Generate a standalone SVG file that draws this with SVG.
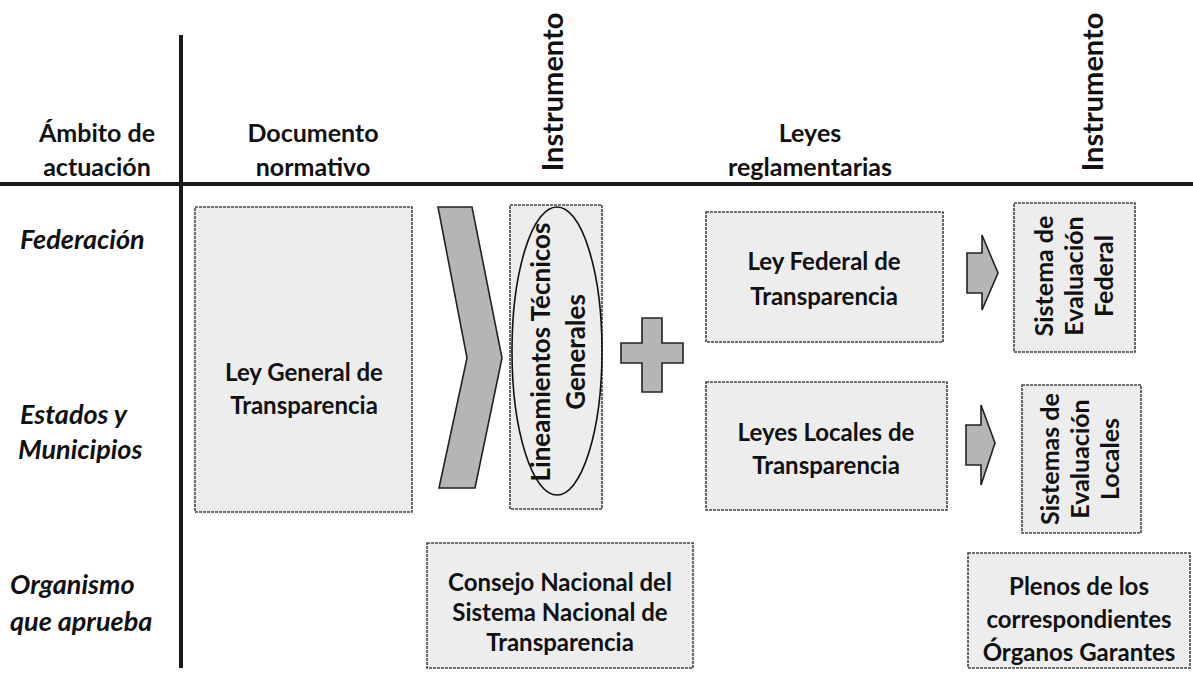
<svg xmlns="http://www.w3.org/2000/svg" width="1193" height="677" viewBox="0 0 1193 677">
<style>
  .t { font-family: Lato, "Open Sans", "Liberation Sans", sans-serif; font-weight: 700; font-size: 24px; fill: #111; text-anchor: middle; }
  .hd { font-size: 25px; }
  .v1 { font-size: 29px; }
  .v2 { font-size: 26px; }
  .v3 { font-size: 25px; }
  .row { font-family: Lato, "Open Sans", "Liberation Sans", sans-serif; font-weight: 700; font-style: italic; font-size: 27px; fill: #111; }
  .box { fill: #ededed; stroke: #444; stroke-width: 1.6; stroke-dasharray: 3 1; }
  .shape { fill: #b5b5b5; stroke: #222; stroke-width: 1.6; }
  .rule { stroke: #1a1a1a; stroke-width: 4; }
</style>
<rect width="1193" height="677" fill="#fff"/>

<g id="grid">
  <line class="rule" x1="0" y1="184" x2="1193" y2="184"/>
  <line class="rule" x1="181" y1="35" x2="181" y2="668"/>
</g>

<g id="headers">
  <text class="t hd" x="97" y="142">Ámbito de</text>
  <text class="t hd" x="97" y="176">actuación</text>
  <text class="t hd" x="313" y="142">Documento</text>
  <text class="t hd" x="313" y="176">normativo</text>
  <text class="t v1" transform="translate(563,92) rotate(-90)">Instrumento</text>
  <text class="t hd" x="810" y="142">Leyes</text>
  <text class="t hd" x="810" y="176">reglamentarias</text>
  <text class="t v1" transform="translate(1103,92) rotate(-90)">Instrumento</text>
</g>

<g id="rows">
  <text class="row" x="20" y="249">Federación</text>
  <text class="row" x="20" y="424">Estados y</text>
  <text class="row" x="18" y="459">Municipios</text>
  <text class="row" x="10" y="594">Organismo</text>
  <text class="row" x="10" y="631">que aprueba</text>
</g>

<g id="ley-general">
  <rect class="box" x="195" y="207" width="217" height="305"/>
  <text class="t" x="304" y="381">Ley General de</text>
  <text class="t" x="304" y="414">Transparencia</text>
</g>

<g id="chevron">
  <polygon class="shape" points="438,207 472,207 502,358 475,488 439,488 467,358"/>
</g>

<g id="lineamientos">
  <rect class="box" x="510" y="205" width="92" height="304"/>
  <ellipse cx="557" cy="351" rx="45" ry="144" fill="none" stroke="#111" stroke-width="1.6"/>
  <text class="t v2" transform="translate(550,352) rotate(-90)">Lineamientos Técnicos</text>
  <text class="t v2" transform="translate(585,352) rotate(-90)">Generales</text>
</g>

<g id="plus">
  <path class="shape" d="M642,318 H662 V343 H683 V363 H662 V392 H642 V363 H621 V343 H642 Z"/>
</g>

<g id="ley-federal">
  <rect class="box" x="706" y="212" width="237" height="130"/>
  <text class="t" x="824" y="270">Ley Federal de</text>
  <text class="t" x="824" y="305">Transparencia</text>
</g>

<g id="leyes-locales">
  <rect class="box" x="706" y="382" width="241" height="128"/>
  <text class="t" x="826" y="441">Leyes Locales de</text>
  <text class="t" x="826" y="474">Transparencia</text>
</g>

<g id="sistema-federal">
  <rect class="box" x="1014" y="203" width="121" height="149"/>
  <text class="t v3" transform="translate(1053,276) rotate(-90)">Sistema de</text>
  <text class="t v3" transform="translate(1083,276) rotate(-90)">Evaluación</text>
  <text class="t v3" transform="translate(1113,276) rotate(-90)">Federal</text>
</g>

<g id="sistemas-locales">
  <rect class="box" x="1022" y="385" width="119" height="148"/>
  <text class="t v3" transform="translate(1059,459) rotate(-90)">Sistemas de</text>
  <text class="t v3" transform="translate(1089,459) rotate(-90)">Evaluación</text>
  <text class="t v3" transform="translate(1119,459) rotate(-90)">Locales</text>
</g>

<g id="consejo">
  <rect class="box" x="427" y="543" width="266" height="125"/>
  <text class="t" x="560" y="591">Consejo Nacional del</text>
  <text class="t" x="560" y="621">Sistema Nacional de</text>
  <text class="t" x="560" y="651">Transparencia</text>
</g>

<g id="plenos">
  <rect class="box" x="968" y="553" width="222" height="115"/>
  <text class="t" x="1079" y="595">Plenos de los</text>
  <text class="t" x="1079" y="628">correspondientes</text>
  <text class="t" x="1079" y="661">Órganos Garantes</text>
</g>

<g id="connectors">
  <path class="shape" d="M967,253 H982 V235 L998,273 L982,310 V293 H967 Z"/>
  <path class="shape" d="M966,425 H981 V405 L995,443 L981,485 V465 H966 Z"/>
</g>
</svg>
